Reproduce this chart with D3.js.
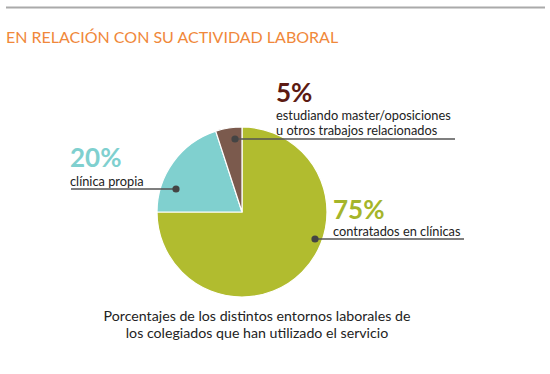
<!DOCTYPE html>
<html><head><meta charset="utf-8">
<script src="https://cdn.jsdelivr.net/npm/d3@7"></script>
<style>body{margin:0;background:#fff}svg{display:block}text{font-family:Lato,"Noto Sans",sans-serif}</style>
</head><body>
<svg id="c" width="550" height="374"></svg>
<script>
const categories = ["contratados en clínicas", "clínica propia", "estudiando master/oposiciones u otros trabajos relacionados"];
const values = [75, 20, 5];
const percentLabels = ["75%", "20%", "5%"];
const colors = ["#b1bc2f", "#80d0cf", "#7b5a4d"];
const labelColors = ["#a5b52a", "#7fd0cf", "#5c1a12"];

const svg = d3.select("#c");
svg.append("line").attr("x1",6).attr("x2",545).attr("y1",7.5).attr("y2",7.5).attr("stroke","#aaa").attr("stroke-width",2.2);
svg.append("text").attr("x",6).attr("y",43).attr("fill","#f0883a").attr("font-size",16).text("EN RELACIÓN CON SU ACTIVIDAD LABORAL");

const cx=242, cy=212, r=85;
const pie = d3.pie().sort(null).value(d=>d)(values);
const arc = d3.arc().innerRadius(0).outerRadius(r);
const g = svg.append("g").attr("transform",`translate(${cx},${cy})`);
g.selectAll("path").data(pie).join("path").attr("d",arc).attr("fill",(d,i)=>colors[i]).attr("stroke","#fff").attr("stroke-width",1.2);

const layouts = [
  {dot:[315,239], lineEnd:464, px:333, py:219, lines:["contratados en clínicas"], ly:236},
  {dot:[176,189], lineEnd:71, px:70, py:167, lines:["clínica propia"], ly:186},
  {dot:[235,139], lineEnd:455, px:276, py:102, lines:["estudiando master/oposiciones","u otros trabajos relacionados"], ly:120}
];
layouts.forEach((L,i)=>{
  svg.append("line").attr("x1",L.dot[0]).attr("x2",L.lineEnd).attr("y1",L.dot[1]).attr("y2",L.dot[1]).attr("stroke","#555").attr("stroke-width",1.3);
  svg.append("circle").attr("cx",L.dot[0]).attr("cy",L.dot[1]).attr("r",3.6).attr("fill","#444");
  svg.append("text").attr("x",L.px).attr("y",L.py).attr("fill",labelColors[i]).attr("font-size",26).attr("font-weight","bold").text(percentLabels[i]);
  L.lines.forEach((t,j)=>{
    svg.append("text").attr("x",L.px).attr("y",L.ly+j*14.8).attr("fill","#222").attr("font-size",12.8).text(t);
  });
});

const caption = ["Porcentajes de los distintos entornos laborales de","los colegiados que han utilizado el servicio"];
caption.forEach((t,j)=>{
  svg.append("text").attr("x",257).attr("y",321+j*17).attr("text-anchor","middle").attr("fill","#222").attr("font-size",14.2).text(t);
});
</script>
</body></html>
